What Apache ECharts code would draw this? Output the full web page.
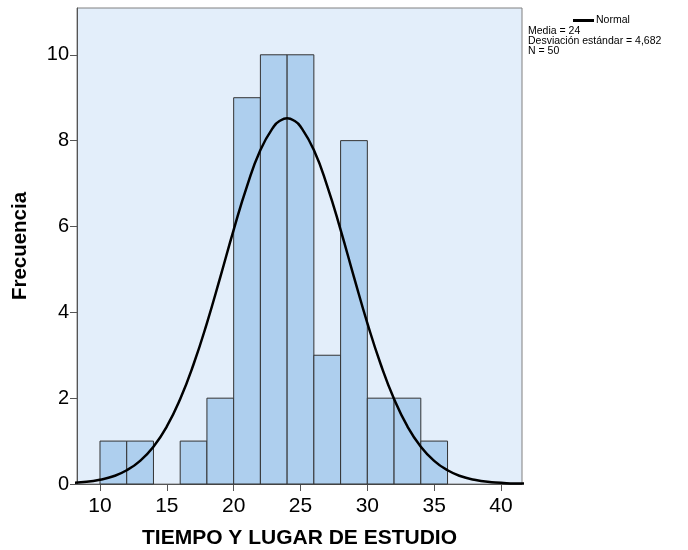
<!DOCTYPE html>
<html>
<head>
<meta charset="utf-8">
<script src="https://cdn.jsdelivr.net/npm/echarts@6/dist/echarts.min.js"></script>
<style>html,body{margin:0;padding:0;background:#fff}#c{width:688px;height:550px}</style>
</head>
<body>
<div id="c"></div>
<script>
// Histogram bins (start, end) and frequencies
var binStarts = [10, 12, 14, 16, 18, 20, 22, 24, 26, 28, 30, 32, 34];
var binEnds   = [12, 14, 16, 18, 20, 22, 24, 26, 28, 30, 32, 34, 36];
var freqs     = [1, 1, 0, 1, 2, 9, 10, 10, 3, 8, 2, 2, 1];
// Normal curve
var curveX = [8, 9, 10, 11, 12, 13, 14, 15, 16, 17, 18, 19, 20, 21, 22, 23, 23.5, 24, 24.5, 25, 26, 27, 28, 29, 30, 31, 32, 33, 34, 35, 36, 37, 38, 39, 40, 41, 42];
var curveY = [0.03, 0.05, 0.10, 0.18, 0.32, 0.54, 0.87, 1.34, 1.98, 2.79, 3.75, 4.82, 5.92, 6.94, 7.78, 8.33, 8.47, 8.52, 8.47, 8.33, 7.78, 6.94, 5.92, 4.82, 3.75, 2.79, 1.98, 1.34, 0.87, 0.54, 0.32, 0.18, 0.10, 0.05, 0.03, 0.01, 0.01];
var xTicks = [10, 15, 20, 25, 30, 35, 40];
var yTicks = [0, 2, 4, 6, 8, 10];
var statsLines = ['Media = 24', 'Desviación estándar = 4,682', 'N = 50'];

var barData = binStarts.map(function (s, i) { return [s, binEnds[i], freqs[i]]; });
var lineData = curveX.map(function (x, i) { return [x, curveY[i]]; });

var chart = echarts.init(document.getElementById('c'), null, {renderer: 'canvas'});
var font = '"Liberation Sans", Arial, sans-serif';
chart.setOption({
  animation: false,
  title: {
    text: statsLines.join('\n'),
    left: 528, top: 26, padding: 0,
    textStyle: {fontFamily: font, fontSize: 10.5, fontWeight: 'normal', color: '#000', lineHeight: 10}
  },
  legend: {
    data: ['Normal'],
    left: 573, top: 15, padding: 0,
    icon: 'rect', itemWidth: 21, itemHeight: 3, itemGap: 2,
    textStyle: {fontFamily: font, fontSize: 10.5, color: '#000', padding: [0, 0, 0, -3]}
  },
  grid: {
    left: 77, right: 166, top: 8, bottom: 66,
    outerBoundsMode: 'none',
    show: true, backgroundColor: '#E3EEFA', borderColor: '#808080', borderWidth: 1
  },
  xAxis: {
    type: 'value', min: 8.28, max: 41.57,
    name: 'TIEMPO Y LUGAR DE ESTUDIO', nameLocation: 'middle', nameGap: 44,
    nameTextStyle: {fontFamily: font, fontSize: 21, fontWeight: 'bold', color: '#000'},
    axisLine: {show: true, onZero: false, lineStyle: {color: '#555', width: 1}},
    axisTick: {show: true, length: 7, customValues: xTicks, lineStyle: {color: '#555'}},
    axisLabel: {customValues: xTicks, fontFamily: font, fontSize: 21, color: '#000', margin: 12},
    splitLine: {show: false}
  },
  yAxis: {
    type: 'value', min: 0, max: 11.09,
    name: 'Frecuencia', nameLocation: 'middle', nameGap: 46, nameRotate: 90,
    nameTextStyle: {fontFamily: font, fontSize: 20.5, fontWeight: 'bold', color: '#000'},
    axisLine: {show: true, lineStyle: {color: '#555', width: 1}},
    axisTick: {show: true, length: 7, customValues: yTicks, lineStyle: {color: '#555'}},
    axisLabel: {customValues: yTicks, fontFamily: font, fontSize: 20, color: '#000', margin: 8},
    splitLine: {show: false}
  },
  series: [
    {
      type: 'custom',
      name: 'Histograma',
      data: barData,
      encode: {x: [0, 1], y: 2},
      renderItem: function (params, api) {
        var p0 = api.coord([api.value(0), api.value(2)]);
        var p1 = api.coord([api.value(1), 0]);
        if (api.value(2) === 0) return null;
        return {
          type: 'rect',
          shape: {x: p0[0], y: p0[1], width: p1[0] - p0[0], height: p1[1] - p0[1]},
          style: {fill: '#AECFEE', stroke: '#333', lineWidth: 1}
        };
      },
      z: 2
    },
    {
      type: 'line',
      name: 'Normal',
      data: lineData,
      smooth: true,
      showSymbol: false,
      symbol: 'none',
      clip: true,
      lineStyle: {color: '#000', width: 2.5},
      itemStyle: {color: '#000'},
      z: 3
    }
  ]
});
</script>
</body>
</html>
